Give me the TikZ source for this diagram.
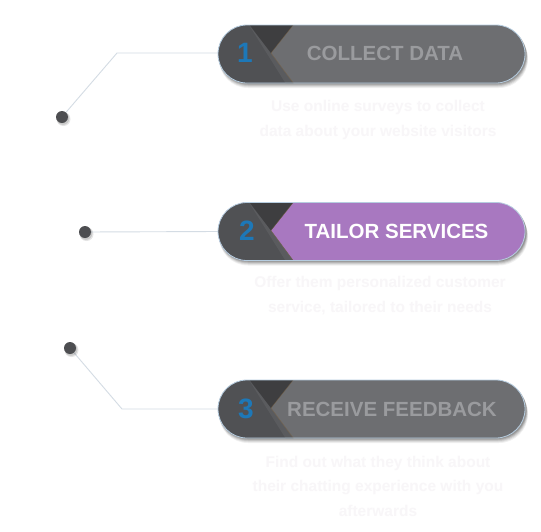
\documentclass[tikz,border=0pt]{standalone}
\usepackage{fontspec}
\setmainfont{Liberation Sans}
\pgfdeclarelayer{background}
\pgfsetlayers{background,main}
\definecolor{bodygray}{RGB}{109,110,113}
\definecolor{leftgray}{RGB}{80,81,84}
\definecolor{midgray}{RGB}{90,91,94}
\definecolor{topdark}{RGB}{62,62,64}
\definecolor{purp}{RGB}{168,120,192}
\definecolor{numblue}{RGB}{29,120,184}
\definecolor{titlegray}{RGB}{154,155,158}
\definecolor{rimblue}{RGB}{182,205,224}
\definecolor{linegray}{RGB}{212,220,228}
\definecolor{dotgray}{RGB}{77,78,81}
\definecolor{faint}{RGB}{248,246,248}
\definecolor{edgebrown}{RGB}{150,115,70}
\tikzset{
  pillbox/.style={rectangle, rounded corners=29pt, minimum width=307pt, minimum height=58pt, inner sep=0pt},
  numtext/.style={font=\bfseries\fontsize{28}{30}\selectfont, text=numblue, inner sep=0pt},
  titletext/.style={font=\bfseries\fontsize{20.5}{24}\selectfont, inner sep=0pt},
  desctext/.style={font=\bfseries\fontsize{15.5}{24.5}\selectfont, text=faint, align=center, inner sep=0pt},
  dotnode/.style={circle, fill=dotgray, minimum size=12pt, inner sep=0pt},
  conn/.style={draw=linegray, line width=0.9pt},
}
\newcommand{\mypill}[3]{%
  % #1 name, #2 centre y, #3 body colour
  \foreach \k/\o in {5/0.06,4/0.08,3/0.10,2/0.12,1/0.14}{
    \fill[black, opacity=\o, rounded corners=29pt] (219,#2-29+\k) rectangle (526+0.4*\k,#2+29+\k);
  }
  \node[pillbox, fill=#3] (#1) at (371.5,#2) {};
  \begin{scope}
    \clip[rounded corners=29pt] (218,#2-29) rectangle (525,#2+29);
    \fill[leftgray] (210,#2-30) -- (294,#2-30) -- (271,#2-1) -- (294,#2+30) -- (210,#2+30) -- cycle;
    \fill[midgray] (249,#2-29) -- (271,#2-1) -- (294,#2+30) -- (286,#2+30) -- cycle;
    \fill[topdark] (249,#2-30) -- (294,#2-30) -- (271,#2-1) -- cycle;
    \draw[edgebrown, opacity=0.5, line width=0.4pt] (294,#2-30) -- (271,#2-1) -- (294,#2+30);
  \end{scope}
  \draw[rimblue, line width=0.8pt, rounded corners=29pt] (218,#2-29) rectangle (525,#2+29);
}
\newcommand{\dotshadow}[2]{%
  \fill[black, opacity=0.10] (#1+1.5,#2+2) circle (7pt);
  \fill[black, opacity=0.12] (#1+1,#2+1.5) circle (6.3pt);
}
\begin{document}
\begin{tikzpicture}[x=1pt,y=-1pt]
\useasboundingbox (0,0) rectangle (541,531);
\begin{pgfonlayer}{background}
\fill[white] (0,0) rectangle (541,531);
\end{pgfonlayer}

% pills
\mypill{p1}{54}{bodygray}
\mypill{p2}{231.5}{purp}
\mypill{p3}{409}{bodygray}

% dots
\dotshadow{62}{117}
\dotshadow{85}{232}
\dotshadow{70}{348}
\node[dotnode] (d1) at (62,117) {};
\node[dotnode] (d2) at (85,232) {};
\node[dotnode] (d3) at (70,348) {};

% connectors (behind pills)
\coordinate (c1) at (117,53);
\coordinate (c3) at (122,409);
\begin{pgfonlayer}{background}
\draw[conn] (d1) -- (c1) -- (p1.west |- c1);
\draw[conn] (d2) -- (p2.west);
\draw[conn] (d3) -- (c3) -- (p3.west);
\end{pgfonlayer}

% numbers
\node[numtext] (n1) at (245,53) {1};
\node[numtext] (n2) at (247,231) {2};
\node[numtext] (n3) at (246,409) {3};

% titles
\node[titletext, text=titlegray] (t1) at (385,53.5) {COLLECT DATA};
\node[titletext, text=white] (t2) at (396.5,231) {TAILOR SERVICES};
\node[titletext, text=titlegray] (t3) at (392,409) {RECEIVE FEEDBACK};

% faint descriptions
\node[desctext] (e1) at (378,120) {Use online surveys to collect\\data about your website visitors};
\node[desctext] (e2) at (380,295.5) {Offer them personalized customer\\service, tailored to their needs};
\node[desctext] (e3) at (378,486) {Find out what they think about\\their chatting experience with you\\afterwards};
\end{tikzpicture}
\end{document}
